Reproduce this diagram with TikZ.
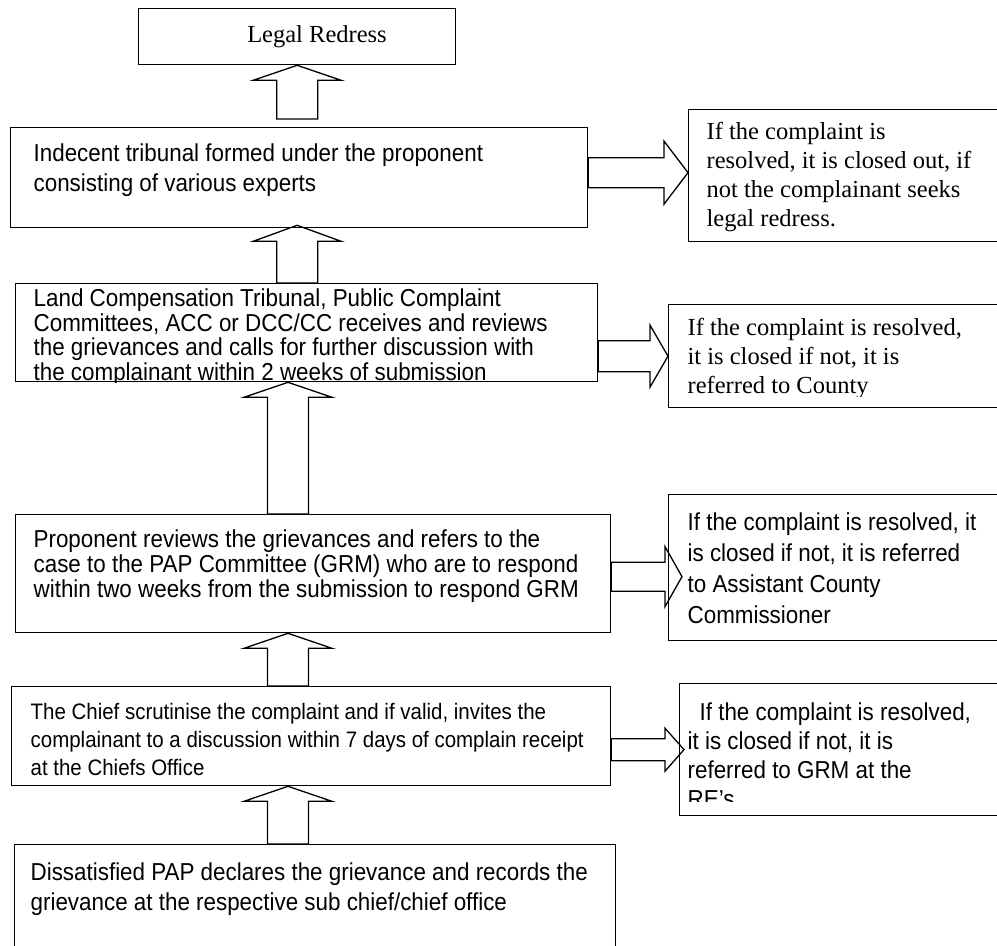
\documentclass[tikz,border=0pt]{standalone}
\usepackage{fontspec}
\setmainfont{Liberation Serif}
\newfontfamily\arialfont[FakeStretch=0.914]{Liberation Sans}
\usetikzlibrary{positioning, calc}

\begin{document}
\begin{tikzpicture}[x=1pt, y=-1pt, line width=1.3pt,
    box/.style={draw, anchor=north west, inner sep=0pt},
    serif/.style={anchor=base west, align=left, inner sep=0pt, font=\fontsize{24.5}{28.7}\selectfont},
    sans/.style={anchor=base west, align=left, inner sep=0pt, font=\arialfont\fontsize{24.5}{#1}\selectfont},
    sans/.default=28,
    shaftw/.store in=\bshaft, headw/.store in=\bhead, headl/.store in=\bheadl,
    upblock/.style={shaftw=20.5pt, headw=44pt, headl=15pt,
        to path={let \p1=(\tikztostart), \p2=(\tikztotarget) in
            (\x1-\bshaft,\y1) -- (\x1-\bshaft,\y2-\bheadl) -- (\x1-\bhead,\y2-\bheadl) -- (\x1,\y2)
            -- (\x1+\bhead,\y2-\bheadl) -- (\x1+\bshaft,\y2-\bheadl) -- (\x1+\bshaft,\y1) -- cycle}},
    rblock/.style={
        to path={let \p1=(\tikztostart), \p2=(\tikztotarget) in
            (\x1,\y1+\bshaft) -- (\x2-\bheadl,\y1+\bshaft) -- (\x2-\bheadl,\y1+\bhead) -- (\x2,\y1)
            -- (\x2-\bheadl,\y1-\bhead) -- (\x2-\bheadl,\y1-\bshaft) -- (\x1,\y1-\bshaft) -- cycle}}]
    \useasboundingbox (0,0) rectangle (997,946);
    \clip (0,0) rectangle (997,946);

    % Steps
    \node[box, minimum width=317, minimum height=56] (legal) at (138,8) {};
    \node[box, minimum width=577, minimum height=100] (tribunal) at (10,127) {};
    \node[box, minimum width=582, minimum height=98] (review) at (15,283) {};
    \node[box, minimum width=595, minimum height=118] (proponent) at (15,514) {};
    \node[box, minimum width=599, minimum height=99] (chief) at (11,686) {};
    \node[box, minimum width=601, minimum height=130] (declare) at (14,844) {};

    % Outcomes
    \node[box, minimum width=340, minimum height=132] (out1) at (688,109) {};
    \node[box, minimum width=360, minimum height=103] (out2) at (668,304) {};
    \node[box, minimum width=360, minimum height=146] (out3) at (668,494) {};
    \node[box, minimum width=350, minimum height=132] (out4) at (679,683) {};

    % Texts (placed at the baseline of their last line)
    \node[serif, anchor=base] (tlegal) at (317,42) {Legal Redress};
    \node[sans=30] (ttribunal) at (33,191) {Indecent tribunal formed under the proponent\\consisting of various experts};
    \begin{scope}
        \clip (review.north west) rectangle (review.south east);
        \node[sans=24.5] (treview) at (33,380) {Land Compensation Tribunal, Public Complaint\\Committees, ACC or DCC/CC receives and reviews\\the grievances and calls for further discussion with\\the complainant within 2 weeks of submission};
    \end{scope}
    \node[sans=25] (tproponent) at (33,597) {Proponent reviews the grievances and refers to the\\case to the PAP Committee (GRM) who are to respond\\within two weeks from the submission to respond GRM};
    \begin{scope}
        \clip (chief.north west) rectangle ([yshift=9]chief.south east);
        \node[sans, font=\arialfont\fontsize{22.4}{28}\selectfont] (tchief) at (30,775) {The Chief scrutinise the complaint and if valid, invites the\\complainant to a discussion within 7 days of complain receipt\\at the Chiefs Office};
    \end{scope}
    \node[sans=30] (tdeclare) at (30,910) {Dissatisfied PAP declares the grievance and records the\\grievance at the respective sub chief/chief office};

    \node[serif] (tout1) at (706,226) {If the complaint is\\resolved, it is closed out, if\\not the complainant seeks\\legal redress.};
    \begin{scope}
        \clip (out2.north west) rectangle ([yshift=12]out2.south east);
        \node[serif] (tout2) at (687,393) {If the complaint is resolved,\\it is closed if not, it is\\referred to County};
    \end{scope}
    \node[sans=31] (tout3) at (687,623) {If the complaint is resolved, it\\is closed if not, it is referred\\to Assistant County\\Commissioner};
    \begin{scope}
        \clip (out4.north west) rectangle ([yshift=15]out4.south east);
        \node[sans=29] (tout4) at (687,807) {\hspace{12pt}If the complaint is resolved,\\it is closed if not, it is\\referred to GRM at the\\RE’s};
    \end{scope}

    % Upward arrows
    \coordinate (spine) at (288,0);
    \draw[upblock] ([yshift=8]tribunal.north -| legal.south) to (legal.south);
    \draw[upblock, headl=16pt] (review.north -| legal.south) to ([yshift=3]tribunal.south -| legal.south);
    \draw[upblock] (proponent.north -| spine) to (review.south -| spine);
    \draw[upblock] (chief.north -| spine) to (proponent.south -| spine);
    \draw[upblock] (declare.north -| spine) to (chief.south -| spine);

    % Sideways arrows
    \draw[rblock, shaftw=15pt, headw=31.5pt, headl=24pt] ([yshift=5]tribunal.east) to (out1.west);
    \draw[rblock, shaftw=15.5pt, headw=31pt, headl=18pt] (review.east |- out2.west) to (out2.west);
    \draw[rblock, shaftw=14.5pt, headw=30pt, headl=17pt] ([yshift=-9]proponent.east |- out3.west) to ([xshift=14]out3.west);
    \draw[rblock, shaftw=11pt, headw=21.5pt, headl=19pt] (chief.east |- out4.west) to ([xshift=5]out4.west);
\end{tikzpicture}
\end{document}
